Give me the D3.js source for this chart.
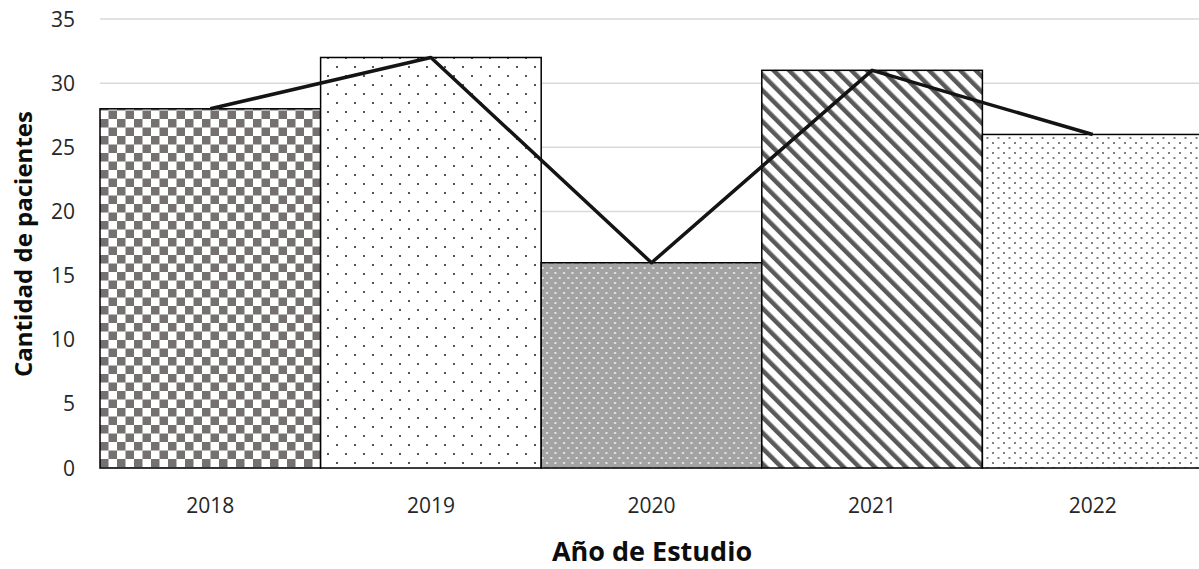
<!DOCTYPE html>
<html><head><meta charset="utf-8">
<script src="https://cdn.jsdelivr.net/npm/d3@7"></script>
<style>body{margin:0;background:#fff;overflow:hidden}</style>
</head><body><svg id="c" width="1199" height="569"></svg>
<script>
const years = ["2018","2019","2020","2021","2022"];
const patients = [28, 32, 16, 31, 26];
const yTicks = [0,5,10,15,20,25,30,35];
const patternIds = ["pCheck","pSparse","pGray","pDiag","pDots"];

const svg = d3.select("#c");
const font = "'Open Sans', 'Liberation Sans', sans-serif";
const x = d3.scaleBand().domain(years).range([100, 1203]).padding(0);
const y = d3.scaleLinear().domain([0,35]).range([468, 19]);

const defs = svg.append("defs");
// checkerboard
let p = defs.append("pattern").attr("id","pCheck").attr("patternUnits","userSpaceOnUse").attr("width",17).attr("height",17).attr("x",100).attr("y",0);
p.append("rect").attr("width",17).attr("height",17).attr("fill","#fff");
p.append("rect").attr("width",8.5).attr("height",8.5).attr("fill","#767171");
p.append("rect").attr("x",8.5).attr("y",8.5).attr("width",8.5).attr("height",8.5).attr("fill","#767171");
// sparse dots
p = defs.append("pattern").attr("id","pSparse").attr("patternUnits","userSpaceOnUse").attr("width",18).attr("height",18);
p.append("rect").attr("width",18).attr("height",18).attr("fill","#fff");
p.append("rect").attr("x",3).attr("y",3).attr("width",2).attr("height",2).attr("fill","#555");
p.append("rect").attr("x",12).attr("y",12).attr("width",2).attr("height",2).attr("fill","#555");
// gray with light dots
p = defs.append("pattern").attr("id","pGray").attr("patternUnits","userSpaceOnUse").attr("width",8.5).attr("height",10);
p.append("rect").attr("width",8.5).attr("height",10).attr("fill","#a3a3a3");
p.append("rect").attr("x",2).attr("y",2).attr("width",2).attr("height",2).attr("fill","#e6e6e6");
p.append("rect").attr("x",6.25).attr("y",7).attr("width",2).attr("height",2).attr("fill","#e6e6e6");
// diagonal stripes (top-left to bottom-right)
p = defs.append("pattern").attr("id","pDiag").attr("patternUnits","userSpaceOnUse").attr("width",11).attr("height",11).attr("patternTransform","rotate(-45)");
p.append("rect").attr("width",11).attr("height",11).attr("fill","#fff");
p.append("rect").attr("width",4.5).attr("height",11).attr("fill","#595959");
// medium dots
p = defs.append("pattern").attr("id","pDots").attr("patternUnits","userSpaceOnUse").attr("width",11).attr("height",10);
p.append("rect").attr("width",11).attr("height",10).attr("fill","#fff");
p.append("rect").attr("x",2).attr("y",2).attr("width",2).attr("height",2).attr("fill","#808080");
p.append("rect").attr("x",7.5).attr("y",7).attr("width",2).attr("height",2).attr("fill","#808080");

// gridlines
svg.append("g").selectAll("line").data(yTicks).join("line")
  .attr("x1",100).attr("x2",1199)
  .attr("y1",d=>y(d)).attr("y2",d=>y(d))
  .attr("stroke","#d9d9d9").attr("stroke-width",1.5);

// y tick labels
svg.append("g").selectAll("text").data(yTicks).join("text")
  .attr("x",75).attr("y",d=>y(d)).attr("dy","0.36em")
  .attr("text-anchor","end").attr("font-family",font).attr("font-size",21).attr("fill","#262626")
  .text(d=>d);

// bars
svg.append("g").selectAll("rect").data(years).join("rect")
  .attr("x",d=>x(d)).attr("width",x.bandwidth())
  .attr("y",(d,i)=>y(patients[i])).attr("height",(d,i)=>y(0)-y(patients[i]))
  .attr("fill",(d,i)=>`url(#${patternIds[i]})`)
  .attr("stroke","#000").attr("stroke-width",1.5);

// line
const line = d3.line().x((d,i)=>x(years[i])+x.bandwidth()/2).y(d=>y(d));
svg.append("path").datum(patients).attr("d",line)
  .attr("fill","none").attr("stroke","#141414").attr("stroke-width",3.5).attr("stroke-linejoin","round");

// x tick labels
svg.append("g").selectAll("text").data(years).join("text")
  .attr("x",d=>x(d)+x.bandwidth()/2).attr("y",505).attr("dy","0.36em")
  .attr("text-anchor","middle").attr("font-family",font).attr("font-size",21).attr("fill","#262626")
  .text(d=>d);

// axis titles
svg.append("text").attr("x",652).attr("y",551).attr("dy","0.36em")
  .attr("text-anchor","middle").attr("font-family",font).attr("font-weight","bold").attr("font-size",27).attr("fill","#0d0d0d")
  .text("Año de Estudio");
svg.append("text").attr("transform","translate(23,244) rotate(-90)").attr("dy","0.36em")
  .attr("text-anchor","middle").attr("font-family",font).attr("font-weight","bold").attr("font-size",24).attr("fill","#0d0d0d")
  .text("Cantidad de pacientes");
</script></body></html>
